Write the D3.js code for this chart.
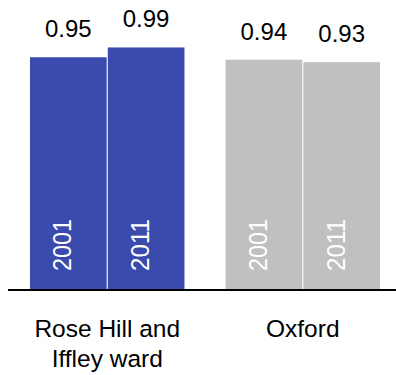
<!DOCTYPE html>
<html>
<head>
<meta charset="utf-8">
<script src="https://cdn.jsdelivr.net/npm/d3@7"></script>
<style>
  body { margin: 0; background: #fff; }
  text { font-family: "Liberation Sans", Arial, sans-serif; }
</style>
</head>
<body>
<svg id="chart" width="396" height="375"></svg>
<script>
// data
var areas = ["Rose Hill and Iffley ward", "Oxford"];
var areaLines = [["Rose Hill and", "Iffley ward"], ["Oxford"]];
var years = ["2001", "2011"];
var values = [[0.95, 0.99], [0.94, 0.93]];
var colors = ["#3a4bad", "#c0c0c0"];

var svg = d3.select("#chart");
var baseY = 290;

var x0 = d3.scaleBand().domain(areas).range([30, 380]).paddingInner(0.21).paddingOuter(0);
var x1 = d3.scaleBand().domain(years).range([0, x0.bandwidth()]).paddingInner(0.014);
var y = d3.scaleLinear().domain([0, 1]).range([baseY, 45]);

var groups = svg.selectAll(".group")
  .data(areas)
  .enter().append("g")
  .attr("class", "group")
  .attr("transform", function(d) { return "translate(" + x0(d) + ",0)"; });

groups.each(function(area, i) {
  var g = d3.select(this);
  var rows = years.map(function(yr, j) { return { year: yr, value: values[i][j] }; });

  g.selectAll("rect")
    .data(rows)
    .enter().append("rect")
    .attr("x", function(d) { return x1(d.year); })
    .attr("y", function(d) { return y(d.value); })
    .attr("width", x1.bandwidth())
    .attr("height", function(d) { return baseY - y(d.value); })
    .attr("fill", colors[i]);

  // value labels
  g.selectAll(".val")
    .data(rows)
    .enter().append("text")
    .attr("class", "val")
    .attr("x", function(d) { return x1(d.year) + x1.bandwidth() / 2; })
    .attr("y", function(d) { return y(d.value) - 20; })
    .attr("text-anchor", "middle")
    .attr("font-size", 24)
    .attr("fill", "#000")
    .text(function(d) { return d.value.toFixed(2); });

  // year labels inside bars
  g.selectAll(".yr")
    .data(rows)
    .enter().append("text")
    .attr("class", "yr")
    .attr("transform", function(d) {
      return "translate(" + (x1(d.year) + x1.bandwidth() / 2 + 3) + "," + (baseY - 19) + ") rotate(-90)";
    })
    .attr("font-size", 25)
    .attr("textLength", 52)
    .attr("lengthAdjust", "spacingAndGlyphs")
    .attr("fill", "#fff")
    .text(function(d) { return d.year; });
});

// axis line
svg.append("line")
  .attr("x1", 8).attr("x2", 396)
  .attr("y1", baseY).attr("y2", baseY)
  .attr("stroke", "#000")
  .attr("stroke-width", 2);

// category labels
areas.forEach(function(a, i) {
  var t = svg.append("text")
    .attr("x", x0(a) + x0.bandwidth() / 2)
    .attr("y", 337)
    .attr("text-anchor", "middle")
    .attr("font-size", 24.5)
    .attr("fill", "#000");
  areaLines[i].forEach(function(line, k) {
    t.append("tspan")
      .attr("x", x0(a) + x0.bandwidth() / 2)
      .attr("dy", k === 0 ? 0 : 30)
      .text(line);
  });
});
</script>
</body>
</html>
